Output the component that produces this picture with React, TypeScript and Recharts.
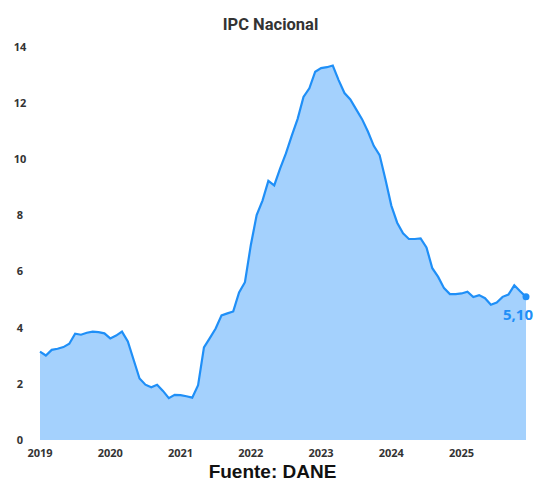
import { Area, AreaChart, ReferenceDot, XAxis, YAxis } from "recharts";

const years = ["2019", "2020", "2021", "2022", "2023", "2024", "2025"];
const ipc2019 = [3.15, 3.01, 3.21, 3.25, 3.31, 3.43, 3.79, 3.75, 3.82, 3.86, 3.84, 3.8];
const ipc2020 = [3.62, 3.72, 3.86, 3.51, 2.85, 2.19, 1.97, 1.88, 1.97, 1.75, 1.49, 1.61];
const ipc2021 = [1.6, 1.56, 1.51, 1.95, 3.3, 3.63, 3.97, 4.44, 4.51, 4.58, 5.26, 5.62];
const ipc2022 = [6.94, 8.01, 8.53, 9.23, 9.07, 9.67, 10.21, 10.84, 11.44, 12.22, 12.53, 13.12];
const ipc2023 = [13.25, 13.28, 13.34, 12.82, 12.36, 12.13, 11.78, 11.43, 10.99, 10.48, 10.15, 9.28];
const ipc2024 = [8.35, 7.74, 7.36, 7.16, 7.16, 7.18, 6.86, 6.12, 5.81, 5.41, 5.2, 5.2];
const ipc2025 = [5.22, 5.28, 5.09, 5.16, 5.05, 4.82, 4.9, 5.1, 5.18, 5.51, 5.3, 5.1];
const yTicks = [0, 2, 4, 6, 8, 10, 12, 14];

const series = [ipc2019, ipc2020, ipc2021, ipc2022, ipc2023, ipc2024, ipc2025];
const data = series.flatMap((vals, yi) => vals.map((v, m) => ({ i: yi * 12 + m, year: years[yi], ipc: v })));
const last = data[data.length - 1];
const xTicks = years.map((_, yi) => yi * 12);

const LINE = "#1f8ff7";
const FILL = "#a4d1fd";
const tickStyle = { fontSize: 11, fontWeight: 700, fill: "#333", fontFamily: "'Open Sans', sans-serif" };

export default function App() {
  return (
    <div style={{ position: "absolute", top: 0, left: 0, width: 534, height: 481, background: "#fff", overflow: "hidden" }}>
      <div
        style={{
          position: "absolute", top: 15, left: 0, width: 534, paddingLeft: 7, boxSizing: "border-box",
          textAlign: "center", lineHeight: "20px",
          fontFamily: "Roboto, sans-serif", fontWeight: 700, fontSize: 16.5, color: "#333",
        }}
      >
        IPC Nacional
      </div>
      <AreaChart width={534} height={481} data={data} margin={{ top: 47, right: 8, bottom: 21, left: 0 }}>
        <XAxis
          dataKey="i"
          type="number"
          domain={[0, last.i]}
          ticks={xTicks}
          tickFormatter={(v: number) => years[v / 12]}
          axisLine={false}
          tickLine={false}
          tickSize={0}
          tickMargin={9}
          height={20}
          tick={tickStyle}
          interval={0}
        />
        <YAxis
          domain={[0, 14]}
          ticks={yTicks}
          width={40}
          axisLine={false}
          tickLine={false}
          interval={0}
          tick={(p: any) => (
            <text x={20} y={p.y} dy="0.355em" textAnchor="middle" {...tickStyle}>
              {p.payload.value}
            </text>
          )}
        />
        <Area
          type="linear"
          dataKey="ipc"
          stroke={LINE}
          strokeWidth={2.2}
          fill={FILL}
          fillOpacity={1}
          isAnimationActive={false}
          dot={false}
          activeDot={false}
        />
        <ReferenceDot
          x={last.i}
          y={last.ipc}
          r={3.5}
          fill={LINE}
          stroke="none"
          ifOverflow="visible"
          label={(p: any) => (
            <text
              x={p.viewBox.x + p.viewBox.width / 2 + 7}
              y={p.viewBox.y + p.viewBox.height / 2 + 23}
              textAnchor="end"
              fill={LINE}
              fontSize={15}
              fontWeight={700}
              fontFamily="'Open Sans', sans-serif"
            >
              {last.ipc.toFixed(2).replace(".", ",")}
            </text>
          )}
        />
      </AreaChart>
      <div
        style={{
          position: "absolute", top: 462, left: 0, width: 534, paddingLeft: 11, boxSizing: "border-box",
          textAlign: "center", lineHeight: "19px",
          fontFamily: "'Liberation Sans', Arial, sans-serif", fontWeight: 700, fontSize: 19, color: "#111",
        }}
      >
        Fuente: DANE
      </div>
    </div>
  );
}
